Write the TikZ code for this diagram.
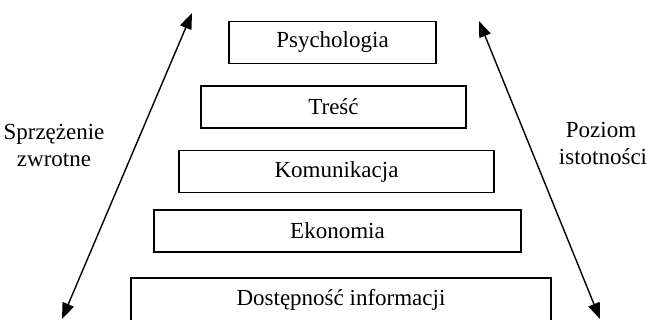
\documentclass[tikz,border=0pt]{standalone}
\usepackage{fontspec}
\setmainfont{Liberation Serif}
\usetikzlibrary{arrows.meta}
\tikzset{
  levelbox/.style={draw=black, line width=1.3pt, minimum height=42pt, inner sep=0pt, font=\fontsize{23}{27}\selectfont},
  sidelabel/.style={align=center, inner sep=0pt, font=\fontsize{23}{27}\selectfont},
  biarrow/.style={line width=1.4pt, {Triangle[length=16pt,width=12pt]}-{Triangle[length=16pt,width=12pt]}}
}
\begin{document}
\begin{tikzpicture}[x=1pt,y=1pt]
\useasboundingbox (0,0) rectangle (647,320);
\node[levelbox, minimum width=207pt] (psy) at (332.5,277.5) {Psychologia};
\node[levelbox, minimum width=265pt] (tre) at (333.5,213) {Treść};
\node[levelbox, minimum width=315pt] (kom) at (336.5,148.5) {Komunikacja};
\node[levelbox, minimum width=367pt] (eko) at (337.5,89) {Ekonomia};
\node[levelbox, minimum width=420pt, minimum height=44pt] (dos) at (341,20) {Dostępność informacji};
\node[sidelabel] (spr) at (54,174) {Sprzężenie\\zwrotne};
\node[sidelabel] (poz) at (601,176) {Poziom\\\hspace*{4pt}istotności};
\coordinate (lt) at (192,307);
\coordinate (lb) at (62,1);
\coordinate (rt) at (479,299);
\coordinate (rb) at (600,1);
\draw[biarrow] (lb) -- (lt);
\draw[biarrow] (rb) -- (rt);
\end{tikzpicture}
\end{document}
